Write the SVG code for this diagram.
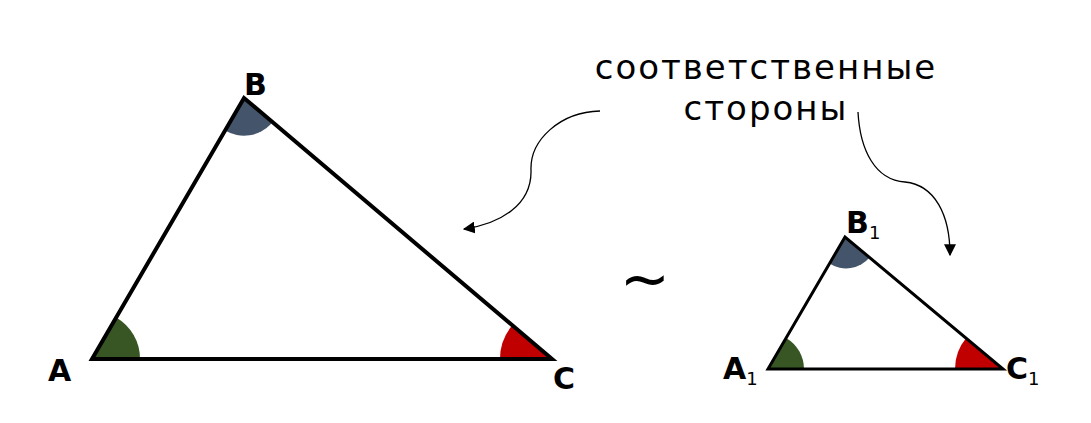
<svg xmlns="http://www.w3.org/2000/svg" width="1091" height="423" viewBox="0 0 1091 423">
<defs>
<style>
.lbl{font-family:"DejaVu Sans","Noto Sans",sans-serif;fill:#000;}
.v{font-size:30px;font-weight:bold;}
.sub{font-size:18px;font-weight:normal;}
.cap{font-size:34px;text-anchor:middle;letter-spacing:2px;}
.tri{fill:none;stroke:#000;stroke-linejoin:miter;}
.conn{fill:none;stroke:#000;stroke-width:1.3;}
</style>
<marker id="ah" viewBox="0 0 10 10" refX="9" refY="5" markerWidth="12" markerHeight="12" markerUnits="userSpaceOnUse" orient="auto">
<path d="M0,0 L10,5 L0,10 Z" fill="#000"/>
</marker>
</defs>
<rect width="1091" height="423" fill="#fff"/>
<g id="triangle-ABC">
<path d="M92,359 L140,359 A48,48 0 0 0 116.2,317.4 Z" fill="#375623"/>
<path d="M244,98 L225,130.6 A37.7,37.7 0 0 0 271.5,123.6 Z" fill="#44546a"/>
<path d="M552,359 L500,359 A52,52 0 0 1 511.7,326.1 Z" fill="#c00000"/>
<path class="tri" d="M92,359 L244,98 L552,359 Z" stroke-width="4"/>
</g>
<g id="triangle-A1B1C1">
<path d="M768,369 L804,369 A36,36 0 0 0 786.5,338.2 Z" fill="#375623"/>
<path d="M845,237 L829.5,263.5 A30.7,30.7 0 0 0 869.6,257.6 Z" fill="#44546a"/>
<path d="M1003,369 L955,369 A48,48 0 0 1 966.2,338.1 Z" fill="#c00000"/>
<path class="tri" d="M768,369 L845,237 L1003,369 Z" stroke-width="3"/>
</g>
<g id="labels">
<text class="lbl v" x="48" y="381">A</text>
<text class="lbl v" x="244" y="95">B</text>
<text class="lbl v" x="553" y="389">C</text>
<text class="lbl v" x="723" y="379">A<tspan class="sub" dy="6">1</tspan></text>
<text class="lbl v" x="846" y="233">B<tspan class="sub" dy="6">1</tspan></text>
<text class="lbl v" x="1006" y="379">C<tspan class="sub" dy="6">1</tspan></text>
</g>
<g id="similar">
<text class="lbl" x="645" y="300" font-size="60" text-anchor="middle">~</text>
</g>
<g id="caption">
<text class="lbl cap" x="766" y="79">соответственные</text>
<text class="lbl cap" x="766" y="120">стороны</text>
</g>
<g id="connectors">
<path class="conn" d="M600,111 C560,112 530,140 531,170 C532,205 500,224 464,229" marker-end="url(#ah)"/>
<path class="conn" d="M858,112 C860,150 875,180 905,182 C935,185 950,215 950,255" marker-end="url(#ah)"/>
</g>
</svg>
